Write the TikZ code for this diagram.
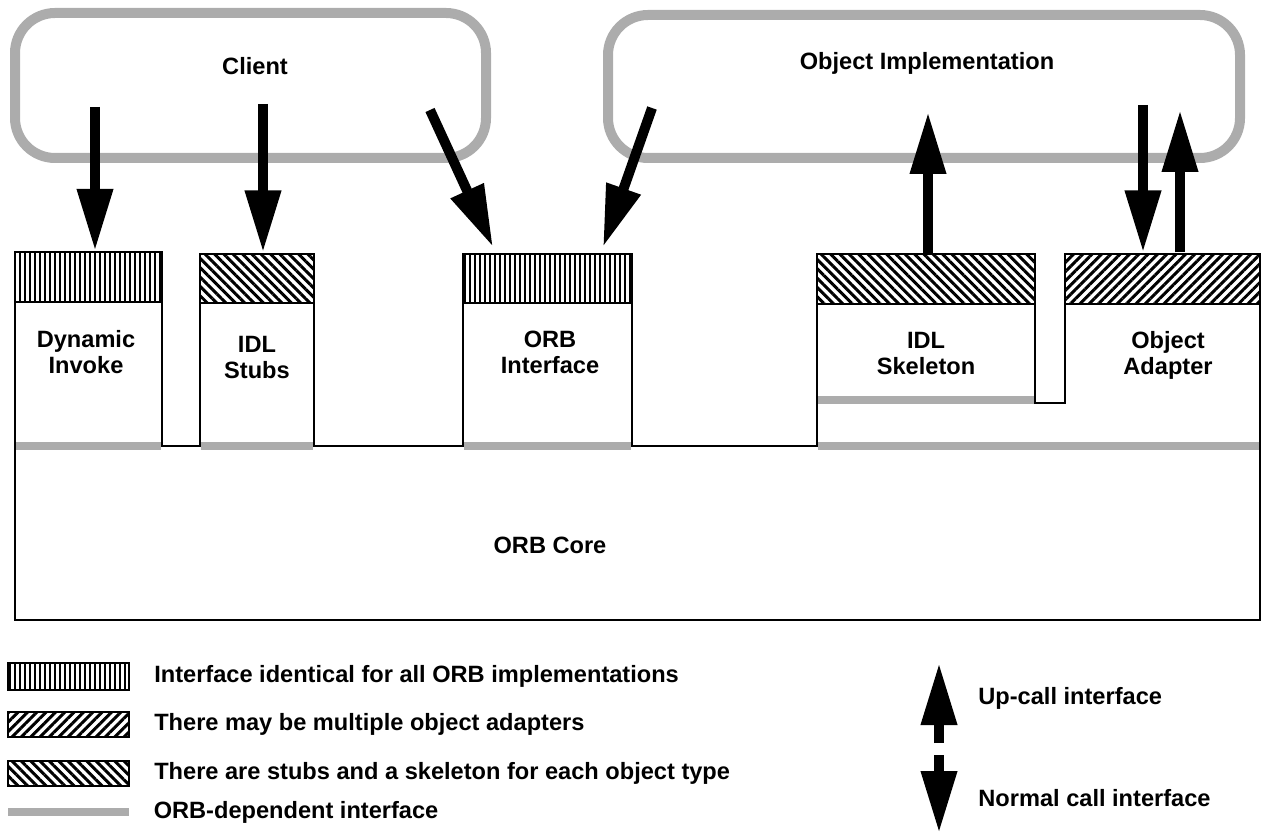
\documentclass[tikz,border=0pt]{standalone}
\usepackage{fontspec}
\setmainfont{Liberation Sans}
\usetikzlibrary{arrows.meta,positioning,patterns.meta,fit}

\tikzset{
  lbl/.style={font=\fontsize{11.8}{13}\selectfont\bfseries, align=center, inner sep=0pt},
  legtext/.style={lbl, anchor=west},
  cloudbox/.style={draw=gray!65, line width=5pt, rounded corners=20pt, inner sep=0pt},
  band/.style={draw, line width=0.9pt, inner sep=0pt},
  identband/.style={band, pattern={Lines[angle=90,distance=2.5pt,line width=1.1pt]}},
  multiband/.style={band, pattern={Lines[angle=45,distance=3.3pt,line width=1.5pt]}},
  typeband/.style={band, pattern={Lines[angle=-45,distance=3.3pt,line width=1.5pt]}},
  orbdep/.style={fill=gray!65, inner sep=0pt},
  callarrow/.style={-{Triangle[length=31pt,width=17pt]}, line width=5pt},
  outline/.style={draw, line width=0.8pt}
}

\begin{document}
\begin{tikzpicture}[x=0.5pt, y=-0.5pt]
\useasboundingbox (0,0) rectangle (1261,833);

% client and object implementation
\node[cloudbox, fit={(15,13)(486,158)}] (client) {};
\node[cloudbox, fit={(608,15)(1240,158)}] (objimpl) {};
\node[lbl] (clientlbl) at (255,66) {Client};
\node[lbl] (objimpllbl) at (927,63) {Object Implementation};

% ORB-dependent strips
\node[orbdep, fit={(15,442)(161,450)}] (dep1) {};
\node[orbdep, fit={(201,442)(313,450)}] (dep2) {};
\node[orbdep, fit={(464,442)(631,450)}] (dep3) {};
\node[orbdep, fit={(818,442)(1259,450)}] (dep4) {};
\node[orbdep, fit={(818,396)(1034,404)}] (dep5) {};

% ORB outline
\path[outline] (15,620) -- (15,252) -- (162,252) -- (162,446) -- (200,446)
  -- (200,254) -- (314,254) -- (314,446) -- (463,446) -- (463,254)
  -- (632,254) -- (632,446) -- (817,446) -- (817,254) -- (1035,254)
  -- (1035,403) -- (1065,403) -- (1065,254) -- (1260,254) -- (1260,620) -- cycle;

% interface bands
\node[identband, fit={(15,252)(162,302)}] (dynband) {};
\node[typeband, fit={(200,254)(314,303)}] (stubband) {};
\node[identband, fit={(463,254)(632,303)}] (orbiband) {};
\node[typeband, fit={(817,254)(1035,304)}] (skelband) {};
\node[multiband, fit={(1065,254)(1260,304)}] (oaband) {};

\node[lbl] (dyn) at (86,352) {Dynamic\\Invoke};
\node[lbl] (stubs) at (257,357) {IDL\\Stubs};
\node[lbl] (orbi) at (550,352) {ORB\\Interface};
\node[lbl] (skel) at (926,353) {IDL\\Skeleton};
\node[lbl] (oa) at (1168,355) {Object\\Adapter};
\node[lbl] (core) at (550,545) {ORB Core};

% calls
\coordinate (c1) at (95,107);
\coordinate (c2) at (263,104);
\coordinate (c3) at (430,110);
\coordinate (c3e) at (493,247);
\coordinate (o1) at (652,108);
\coordinate (o1e) at (603,247);
\coordinate (o2) at (928,112);
\coordinate (o3) at (1143,105);
\coordinate (o4) at (1180,110);
\draw[callarrow] (c1) -- (c1 |- dynband.north);
\draw[callarrow] (c2) -- (c2 |- stubband.north);
\draw[callarrow] (c3) -- (c3e);
\draw[callarrow] (o1) -- (o1e);
\draw[callarrow] (o2 |- skelband.north) -- (o2);
\draw[callarrow] (o3) -- (o3 |- oaband.north);
\draw[callarrow] (o4 |- oaband.north) -- (o4);

% legend
\node[identband, fit={(8,663)(129,690)}] (legident) {};
\node[multiband, fit={(8,712)(129,737)}] (legmulti) {};
\node[typeband, fit={(8,761)(129,786)}] (legtype) {};
\node[orbdep, fit={(8,808)(129,816)}] (legdep) {};
\node[legtext, right=12pt of legident] (legidenttxt) {Interface identical for all ORB implementations};
\node[legtext, right=12pt of legmulti] (legmultitxt) {There may be multiple object adapters};
\node[legtext, right=12pt of legtype] (legtypetxt) {There are stubs and a skeleton for each object type};
\node[legtext, right=12pt of legdep] (legdeptxt) {ORB-dependent interface};

\coordinate (upfoot) at (939,743);
\coordinate (uptip) at (939,663);
\coordinate (dnfoot) at (939,755);
\coordinate (dntip) at (939,833);
\draw[callarrow] (upfoot) -- (uptip);
\draw[callarrow] (dnfoot) -- (dntip);
\node[legtext] (uptxt) at (978,698) {Up-call interface};
\node[legtext] (dntxt) at (978,798) {Normal call interface};
\end{tikzpicture}
\end{document}
